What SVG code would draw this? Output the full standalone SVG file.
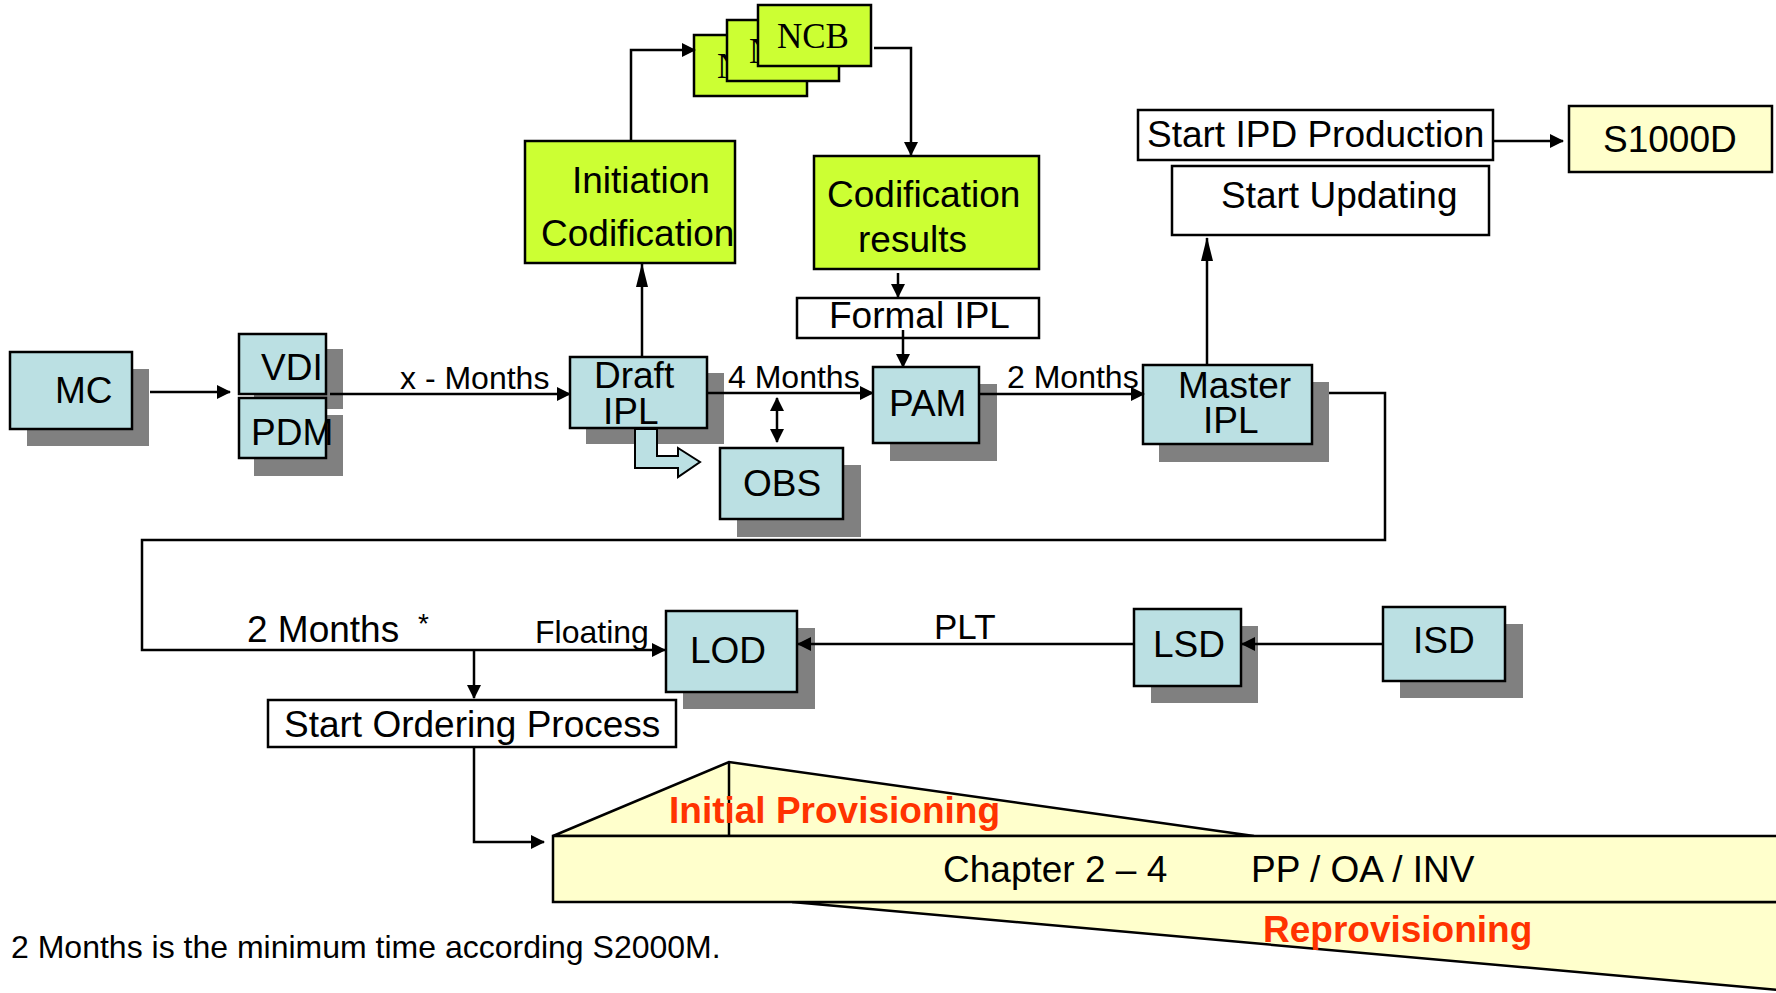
<svg xmlns="http://www.w3.org/2000/svg" width="1776" height="993" viewBox="0 0 1776 993">
<style>
.t{font-family:"Liberation Sans",Arial,sans-serif;font-size:37px;fill:#000}
.s{font-size:32px}
.nc{font-family:"Liberation Serif","Times New Roman",serif;font-size:35px;fill:#000}
.red{fill:#FF3300;font-weight:bold}
.blue{fill:#BBE0E3;stroke:#000;stroke-width:2.5}
.green{fill:#CCFF33;stroke:#000;stroke-width:2.5}
.white{fill:#FFFFFF;stroke:#000;stroke-width:2.5}
.yel{fill:#FFFFCC;stroke:#000;stroke-width:2.5}
.sh{fill:#808080}
.c{fill:none;stroke:#000;stroke-width:2.5}
</style>
<defs>
<marker id="ah" viewBox="0 0 14 14" refX="13" refY="7" markerWidth="14" markerHeight="14" orient="auto-start-reverse" markerUnits="userSpaceOnUse"><path d="M0,0 L14,7 L0,14 z" fill="#000"/></marker>
<marker id="ahn" viewBox="0 0 24 12" refX="23" refY="6" markerWidth="24" markerHeight="12" orient="auto" markerUnits="userSpaceOnUse"><path d="M0,0 L24,6 L0,12 z" fill="#000"/></marker>
</defs>
<rect width="1776" height="993" fill="#FFFFFF"/>

<g id="provisioning">
<polygon class="yel" points="553,836 729,762 1254,836"/>
<polygon class="yel" points="792,902 1800,992 1800,902"/>
<rect class="yel" x="553" y="836" width="1250" height="66"/>
<line x1="729" y1="762" x2="729" y2="836" stroke="#000" stroke-width="2.5"/>
<text class="t red" x="669" y="823">Initial Provisioning</text>
<text class="t" x="943" y="882">Chapter 2 – 4</text>
<text class="t" x="1251" y="882">PP / OA / INV</text>
<text class="t red" x="1263" y="942">Reprovisioning</text>
</g>

<g id="MC"><rect class="sh" x="27" y="369" width="122" height="77"/><rect class="blue" x="10" y="352" width="122" height="77"/><text class="t" x="55" y="403">MC</text></g>
<g id="VDI"><rect class="sh" x="254" y="349" width="89" height="60"/><rect class="blue" x="239" y="334" width="87" height="60"/><text class="t" x="261" y="380">VDI</text></g>
<g id="PDM"><rect class="sh" x="254" y="415" width="89" height="61"/><rect class="blue" x="239" y="398" width="87" height="60"/><text class="t" x="251" y="445">PDM</text></g>
<g id="DraftIPL"><rect class="sh" x="586" y="373" width="138" height="71"/><rect class="blue" x="570" y="357" width="137" height="71"/><text class="t" x="594" y="388">Draft</text><text class="t" x="603" y="424">IPL</text></g>
<g id="InitiationCodification"><rect class="green" x="525" y="141" width="210" height="122"/><text class="t" x="572" y="193">Initiation</text><text class="t" x="541" y="246">Codification</text></g>
<g id="NCB">
<rect class="green" x="694" y="35" width="113" height="61"/><text class="nc" x="717" y="78">N</text>
<rect class="green" x="727" y="20" width="112" height="61"/><text class="nc" x="749" y="63">N</text>
<rect class="green" x="758" y="5" width="113" height="61"/><text class="nc" x="777" y="48">NCB</text>
</g>
<g id="CodificationResults"><rect class="green" x="814" y="156" width="225" height="113"/><text class="t" x="827" y="207">Codification</text><text class="t" x="858" y="252">results</text></g>
<g id="FormalIPL"><rect class="white" x="797" y="298" width="242" height="40"/><text class="t" x="829" y="328">Formal IPL</text></g>
<g id="PAM"><rect class="sh" x="890" y="384" width="107" height="77"/><rect class="blue" x="873" y="367" width="106" height="76"/><text class="t" x="889" y="416">PAM</text></g>
<g id="OBS"><rect class="sh" x="737" y="465" width="124" height="72"/><rect class="blue" x="720" y="448" width="123" height="71"/><text class="t" x="743" y="496">OBS</text></g>
<g id="MasterIPL"><rect class="sh" x="1159" y="382" width="170" height="80"/><rect class="blue" x="1143" y="365" width="169" height="79"/><text class="t" x="1178" y="398">Master</text><text class="t" x="1203" y="433">IPL</text></g>
<g id="StartIPDProduction"><rect class="white" x="1138" y="110" width="355" height="50"/><text class="t" x="1147" y="147">Start IPD Production</text></g>
<g id="StartUpdating"><rect class="white" x="1172" y="166" width="317" height="69"/><text class="t" x="1221" y="208">Start Updating</text></g>
<g id="S1000D"><rect class="yel" x="1569" y="106" width="203" height="66"/><text class="t" x="1603" y="152">S1000D</text></g>
<g id="LOD"><rect class="sh" x="683" y="628" width="132" height="81"/><rect class="blue" x="666" y="611" width="131" height="81"/><text class="t" x="690" y="663">LOD</text></g>
<g id="LSD"><rect class="sh" x="1151" y="626" width="107" height="77"/><rect class="blue" x="1134" y="609" width="107" height="77"/><text class="t" x="1153" y="657">LSD</text></g>
<g id="ISD"><rect class="sh" x="1400" y="624" width="123" height="74"/><rect class="blue" x="1383" y="607" width="122" height="74"/><text class="t" x="1413" y="653">ISD</text></g>
<g id="StartOrderingProcess"><rect class="white" x="268" y="700" width="408" height="47"/><text class="t" x="284" y="737">Start Ordering Process</text></g>

<g id="connectors">
<path class="c" d="M150,392 L230,392" marker-end="url(#ah)"/>
<path class="c" d="M330,394 L570,394" marker-end="url(#ah)"/>
<path class="c" d="M642,357 L642,264" marker-end="url(#ahn)"/>
<path class="c" d="M631,141 L631,50 L695,50" marker-end="url(#ah)"/>
<path class="c" d="M874,48 L911,48 L911,155" marker-end="url(#ah)"/>
<path class="c" d="M898,273 L898,297" marker-end="url(#ah)"/>
<path class="c" d="M903,330 L903,367" marker-end="url(#ah)"/>
<path class="c" d="M707,393 L873,393" marker-end="url(#ah)"/>
<path class="c" d="M777,398 L777,442" marker-start="url(#ah)" marker-end="url(#ah)"/>
<path d="M635,429 L657,429 L657,456 L678,456 L678,448 L700,462 L678,477 L678,468 L635,468 Z" fill="#BBE0E3" stroke="#000" stroke-width="2"/>
<path class="c" d="M979,394 L1144,394" marker-end="url(#ah)"/>
<path class="c" d="M1207,365 L1207,238" marker-end="url(#ahn)"/>
<path class="c" d="M1493,141 L1563,141" marker-end="url(#ah)"/>
<path class="c" d="M1329,393 L1385,393 L1385,540 L142,540 L142,650 L665,650" marker-end="url(#ah)"/>
<path class="c" d="M474,650 L474,698" marker-end="url(#ah)"/>
<path class="c" d="M474,747 L474,842 L544,842" marker-end="url(#ah)"/>
<path class="c" d="M1134,644 L798,644" marker-end="url(#ah)"/>
<path class="c" d="M1383,644 L1242,644" marker-end="url(#ah)"/>
<text class="t s" x="400" y="389">x - Months</text>
<text class="t s" x="728" y="388">4 Months</text>
<text class="t s" x="1007" y="388">2 Months</text>
<text class="t" x="247" y="642">2 Months</text>
<text class="t" style="font-size:28px" x="418" y="633">*</text>
<text class="t s" x="535" y="643">Floating</text>
<text class="t" style="font-size:35px" x="934" y="639">PLT</text>
</g>
<text class="t s" x="11" y="958">2 Months is the minimum time according S2000M.</text>
</svg>
